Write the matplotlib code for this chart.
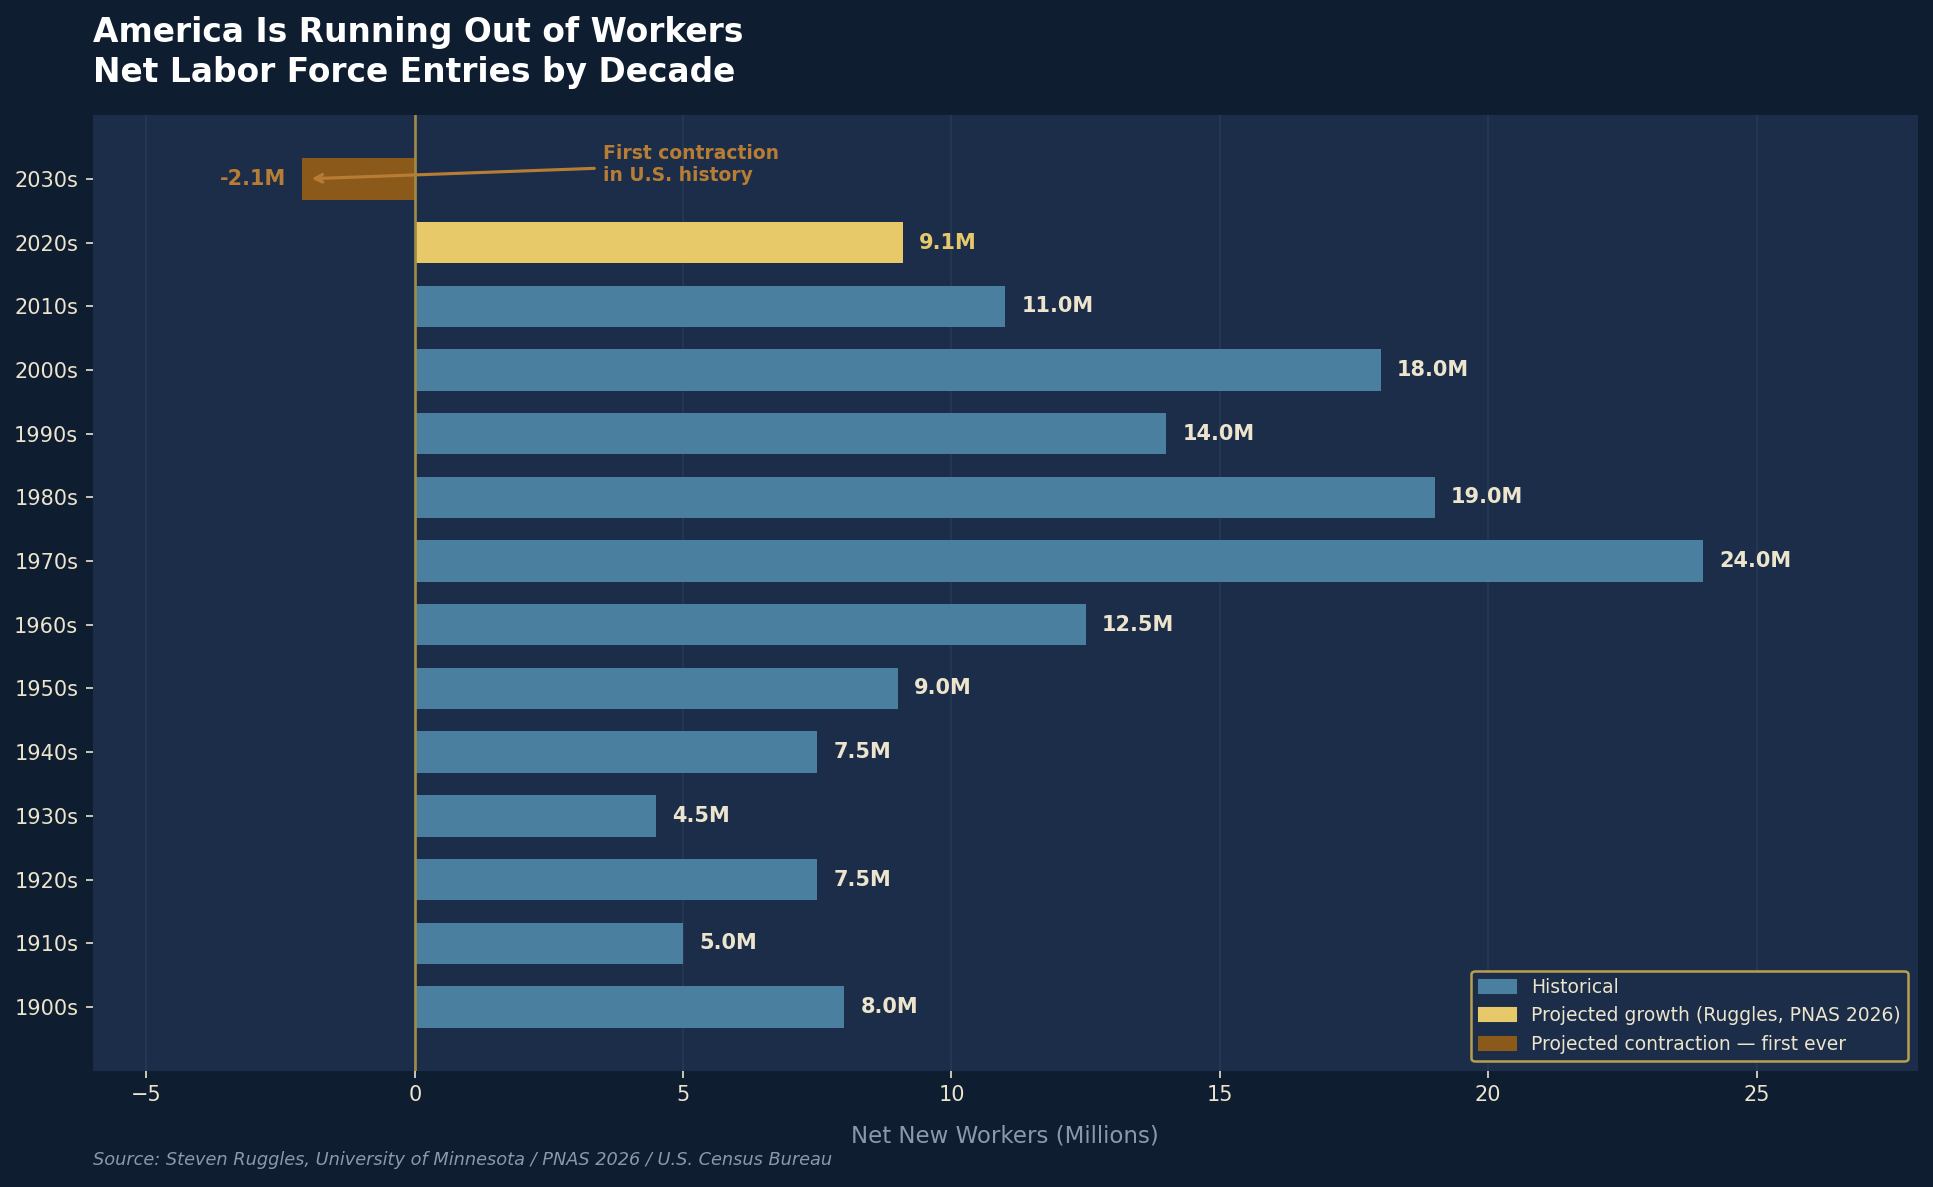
import matplotlib
matplotlib.use("Agg")
import matplotlib.pyplot as plt
from matplotlib.patches import Patch

# data (millions of net new workers per decade)
decades = ["1900s", "1910s", "1920s", "1930s", "1940s", "1950s", "1960s",
           "1970s", "1980s", "1990s", "2000s", "2010s", "2020s", "2030s"]
values = [8.0, 5.0, 7.5, 4.5, 7.5, 9.0, 12.5, 24.0, 19.0, 14.0, 18.0, 11.0, 9.1, -2.1]
kind = ["hist"] * 12 + ["growth", "contract"]

BG = "#0f1d30"
AX_BG = "#1b2d48"
C_HIST = "#4a7fa0"
C_GROW = "#e8c96a"
C_CONT = "#8b5a1a"
C_NOTE = "#b87d35"
TXT = "#ece4cc"

colors = {"hist": C_HIST, "growth": C_GROW, "contract": C_CONT}

fig, ax = plt.subplots(figsize=(1933 / 150, 1187 / 150), dpi=150)
fig.patch.set_facecolor(BG)
ax.set_facecolor(AX_BG)
fig.subplots_adjust(left=0.048, right=0.992, top=0.903, bottom=0.098)

ypos = list(range(len(decades)))
ax.barh(ypos, values, height=0.65, color=[colors[k] for k in kind], zorder=3)

# value labels
for y, v, k in zip(ypos, values, kind):
    if k == "contract":
        ax.text(v - 0.3, y, f"{v:.1f}M", ha="right", va="center",
                color=C_NOTE, fontsize=10, fontweight="bold", zorder=5)
    else:
        c = C_GROW if k == "growth" else TXT
        ax.text(v + 0.3, y, f"{v:.1f}M", ha="left", va="center",
                color=c, fontsize=10, fontweight="bold", zorder=5)

ax.axvline(0, color="#a08a4a", lw=1.3, zorder=4)

ax.annotate("First contraction\nin U.S. history", xy=(-2.0, 13.0), xytext=(3.5, 13.22),
            color=C_NOTE, fontsize=9, fontweight="bold", ha="left", va="center",
            arrowprops=dict(arrowstyle="->", color=C_NOTE, lw=1.5), zorder=6)

ax.set_xlim(-6, 28)
ax.set_ylim(-1, 14)
ax.set_yticks(ypos)
ax.set_yticklabels(decades)
ax.tick_params(colors=TXT, labelsize=10)
ax.grid(axis="x", color="#2b3f5c", lw=0.8, alpha=0.6, zorder=0)
ax.set_axisbelow(True)
for s in ax.spines.values():
    s.set_visible(False)

ax.set_xlabel("Net New Workers (Millions)", color="#8899aa", fontsize=11, labelpad=9)
ax.set_title("America Is Running Out of Workers\nNet Labor Force Entries by Decade",
             loc="left", color="white", fontsize=15.8, fontweight="bold", pad=16,
             linespacing=1.25)

handles = [Patch(color=C_HIST, label="Historical"),
           Patch(color=C_GROW, label="Projected growth (Ruggles, PNAS 2026)"),
           Patch(color=C_CONT, label="Projected contraction \u2014 first ever")]
leg = ax.legend(handles=handles, loc="lower right", fontsize=9, facecolor=AX_BG,
                edgecolor="#b8a050", labelcolor=TXT, framealpha=1)
leg.get_frame().set_linewidth(1.2)

fig.text(0.048, 0.015, "Source: Steven Ruggles, University of Minnesota / PNAS 2026 / U.S. Census Bureau",
         color="#8899aa", fontsize=8.5, style="italic", ha="left", va="bottom")

fig.savefig("out.png", dpi=150, facecolor=BG)
